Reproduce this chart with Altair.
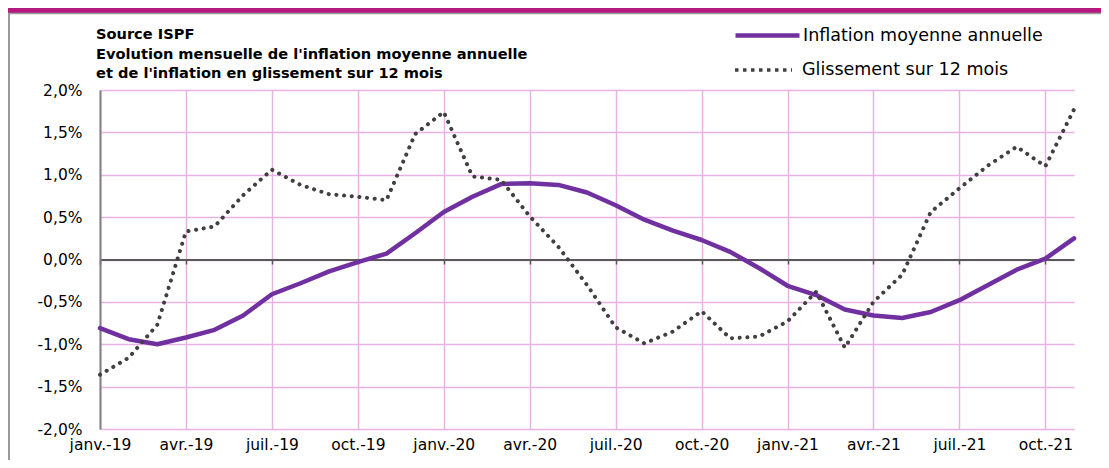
import altair as alt
import pandas as pd

months = [
    "janv.-19", "févr.-19", "mars-19", "avr.-19", "mai-19", "juin-19",
    "juil.-19", "août-19", "sept.-19", "oct.-19", "nov.-19", "déc.-19",
    "janv.-20", "févr.-20", "mars-20", "avr.-20", "mai-20", "juin-20",
    "juil.-20", "août-20", "sept.-20", "oct.-20", "nov.-20", "déc.-20",
    "janv.-21", "févr.-21", "mars-21", "avr.-21", "mai-21", "juin-21",
    "juil.-21", "août-21", "sept.-21", "oct.-21", "nov.-21",
]

tick_labels = [
    "janv.-19", "avr.-19", "juil.-19", "oct.-19",
    "janv.-20", "avr.-20", "juil.-20", "oct.-20",
    "janv.-21", "avr.-21", "juil.-21", "oct.-21",
]

moyenne = [
    -0.81, -0.94, -1.00, -0.92, -0.83, -0.66, -0.41, -0.28, -0.14, -0.03, 0.07, 0.31,
    0.56, 0.74, 0.89, 0.90, 0.88, 0.79, 0.64, 0.47, 0.34, 0.23, 0.09, -0.10,
    -0.31, -0.42, -0.59, -0.66, -0.69, -0.62, -0.48, -0.30, -0.12, 0.01, 0.25,
]

glissement = [
    -1.36, -1.16, -0.77, 0.33, 0.39, 0.76, 1.06, 0.88, 0.77, 0.74, 0.70, 1.48,
    1.74, 0.98, 0.94, 0.51, 0.15, -0.30, -0.80, -0.99, -0.85, -0.61, -0.93, -0.91,
    -0.73, -0.38, -1.04, -0.50, -0.18, 0.56, 0.84, 1.11, 1.33, 1.10, 1.77,
]

y_ticks = [-2.0, -1.5, -1.0, -0.5, 0.0, 0.5, 1.0, 1.5, 2.0]

title_lines = [
    "Source ISPF",
    "Evolution mensuelle de l'inflation moyenne annuelle",
    "et de l'inflation en glissement sur 12 mois",
]

S_MOY = "Inflation moyenne annuelle"
S_GL = "Glissement sur 12 mois"

df_moy = pd.DataFrame({"mois": months, "valeur": moyenne, "serie": S_MOY})
df_gl = pd.DataFrame({"mois": months, "valeur": glissement, "serie": S_GL})

FONT = "DejaVu Sans"
PINK = "#E9B2E5"
PURPLE = "#7030A0"
DOTS = "#404040"

W, H = 974, 339

x_enc = alt.X(
    "mois:O", sort=months, scale=alt.Scale(type="point", padding=0),
    axis=alt.Axis(
        values=tick_labels, title=None, labelAngle=0, offset=-H / 2,
        labelPadding=H / 2 + 4, tickSize=4.5, tickColor="#595959", tickWidth=1.5,
        domainColor="#595959", domainWidth=2, grid=True, gridColor=PINK, gridWidth=1.5,
        labelFont=FONT, labelFontSize=15.5, labelColor="#000",
    ),
)
y_enc = alt.Y(
    "valeur:Q", scale=alt.Scale(domain=[-2, 2], nice=False, zero=False),
    axis=alt.Axis(
        values=y_ticks, title=None, ticks=False,
        labelExpr="replace(replace(format(datum.value, '.1f'), '.', ','), '\u2212', '-') + '%'",
        domainColor="#808080", domainWidth=2, gridColor=PINK, gridWidth=1.5,
        labelPadding=18, labelFont=FONT, labelFontSize=15.5, labelColor="#000",
    ),
)


def leg(y, size, width, dash, offset):
    kw = dict(
        title=None, orient="none", legendX=633, legendY=y,
        symbolType="stroke", symbolSize=size, symbolStrokeWidth=width,
        labelFont=FONT, labelFontSize=17.5, labelColor="#000", labelOffset=offset,
        labelLimit=500, padding=0,
    )
    if dash:
        kw["symbolDash"] = dash
    return alt.Legend(**kw)


line_moy = alt.Chart(df_moy).mark_line(
    strokeWidth=4.5, strokeCap="round", strokeJoin="round"
).encode(
    x=x_enc, y=y_enc,
    color=alt.Color("serie:N", scale=alt.Scale(domain=[S_MOY], range=[PURPLE]),
                    legend=leg(-89, 64 * 64, 4.5, None, 1)),
)
line_gl = alt.Chart(df_gl).mark_line(
    strokeWidth=4, strokeDash=[0.1, 7.6], strokeCap="round", strokeJoin="round"
).encode(
    x=x_enc, y=y_enc,
    color=alt.Color("serie:N", scale=alt.Scale(domain=[S_GL], range=[DOTS]),
                    legend=leg(-50.5, 57 * 57, 3.5, [3.5, 4.5], 8)),
)

deco_df = pd.DataFrame({"k": [0]})
band = alt.Chart(deco_df).mark_rect(color="#B5197F", clip=False).encode(
    x=alt.value(-92), x2=alt.value(W + 27), y=alt.value(-82), y2=alt.value(-77))
topline = alt.Chart(deco_df).mark_rule(color="#9A9A9A", strokeWidth=1.5, clip=False).encode(
    x=alt.value(-92), x2=alt.value(W + 27), y=alt.value(-76.5))
leftline = alt.Chart(deco_df).mark_rule(color="#9A9A9A", strokeWidth=2, clip=False).encode(
    x=alt.value(-91), y=alt.value(-76), y2=alt.value(H + 31))
title = alt.Chart(deco_df).mark_text(
    align="left", baseline="alphabetic", font=FONT, fontSize=14.6, fontWeight="bold",
    lineHeight=19.5, color="#000", clip=False,
).encode(x=alt.value(-4), y=alt.value(-51), text=alt.value(title_lines))

chart = alt.layer(band, topline, leftline, title, line_moy, line_gl).resolve_scale(
    color="independent"
).resolve_legend(color="independent").properties(
    width=W, height=H,
    autosize=alt.AutoSizeParams(type="none"),
    padding={"left": 92, "top": 82, "right": 27, "bottom": 31},
    background="white",
).configure_view(stroke=None)

chart.save("out.html", embed_options={"renderer": "svg", "actions": False})
